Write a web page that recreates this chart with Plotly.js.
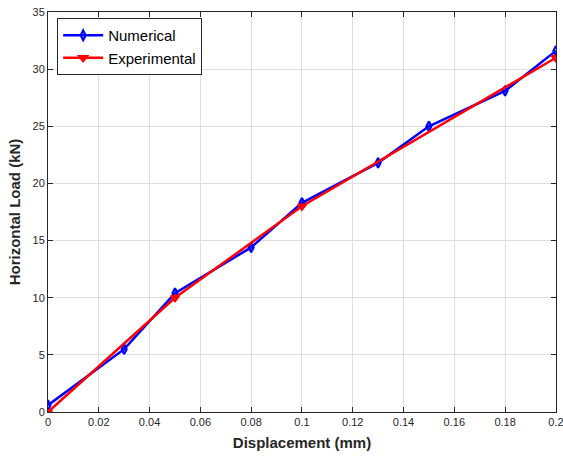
<!DOCTYPE html>
<html>
<head>
<meta charset="utf-8">
<script src="https://cdn.plot.ly/plotly-3.0.1.min.js"></script>
<style>html,body{margin:0;padding:0;background:#fff;}#chart{width:563px;height:459px;}</style>
</head>
<body>
<div id="chart"></div>
<script>
const numX = [0, 0.03, 0.05, 0.08, 0.10, 0.13, 0.15, 0.18, 0.20];
const numY = [0.6, 5.5, 10.4, 14.4, 18.3, 21.8, 25.0, 28.1, 31.6];
const expX = [0, 0.05, 0.10, 0.20];
const expY = [0, 10.0, 18.0, 31.0];
const xTicks = [0, 0.02, 0.04, 0.06, 0.08, 0.1, 0.12, 0.14, 0.16, 0.18, 0.2];
const xTickText = ["0", "0.02", "0.04", "0.06", "0.08", "0.1", "0.12", "0.14", "0.16", "0.18", "0.2"];
const yTicks = [0, 5, 10, 15, 20, 25, 30, 35];

const font = "Liberation Sans, Arial, Helvetica, sans-serif";
const traces = [
  {x: numX, y: numY, name: "Numerical", mode: "lines+markers", type: "scatter",
   line: {color: "#0000ff", width: 2.5},
   marker: {symbol: "diamond-tall-open", size: 7, color: "#0000ff", line: {width: 2.2, color: "#0000ff"}}},
  {x: expX, y: expY, name: "Experimental", mode: "lines+markers", type: "scatter",
   line: {color: "#ff0000", width: 2.5},
   marker: {symbol: "triangle-down-open", size: 7, color: "#ff0000", line: {width: 2.2, color: "#ff0000"}}}
];
const axisCommon = {
  showline: true, linecolor: "#262626", linewidth: 1, mirror: "ticks",
  ticks: "inside", ticklen: 5, tickcolor: "#262626", tickwidth: 1,
  showgrid: true, gridcolor: "#dedede", gridwidth: 1, zeroline: false,
  tickfont: {family: font, size: 11, color: "#262626"}
};
const layout = {
  width: 563, height: 459,
  margin: {l: 48, r: 7, t: 12, b: 47},
  paper_bgcolor: "#ffffff", plot_bgcolor: "#ffffff",
  showlegend: true,
  legend: {x: 0.018, y: 0.985, xanchor: "left", yanchor: "top",
           bgcolor: "#ffffff", bordercolor: "#262626", borderwidth: 1,
           font: {family: font, size: 15, color: "#000"},
           tracegroupgap: 0, itemwidth: 40},
  xaxis: Object.assign({}, axisCommon, {
    range: [0, 0.20005], tickvals: xTicks, ticktext: xTickText,
    ticklabeloverflow: "allow",
    title: {text: "<b>Displacement (mm)</b>", font: {family: font, size: 15, color: "#262626"}, standoff: 10}
  }),
  yaxis: Object.assign({}, axisCommon, {
    range: [0, 35], tickvals: yTicks,
    title: {text: "<b>Horizontal Load (kN)</b>", font: {family: font, size: 15, color: "#262626"}, standoff: 8}
  })
};
Plotly.newPlot("chart", traces, layout, {displayModeBar: false, staticPlot: true});
</script>
</body>
</html>
